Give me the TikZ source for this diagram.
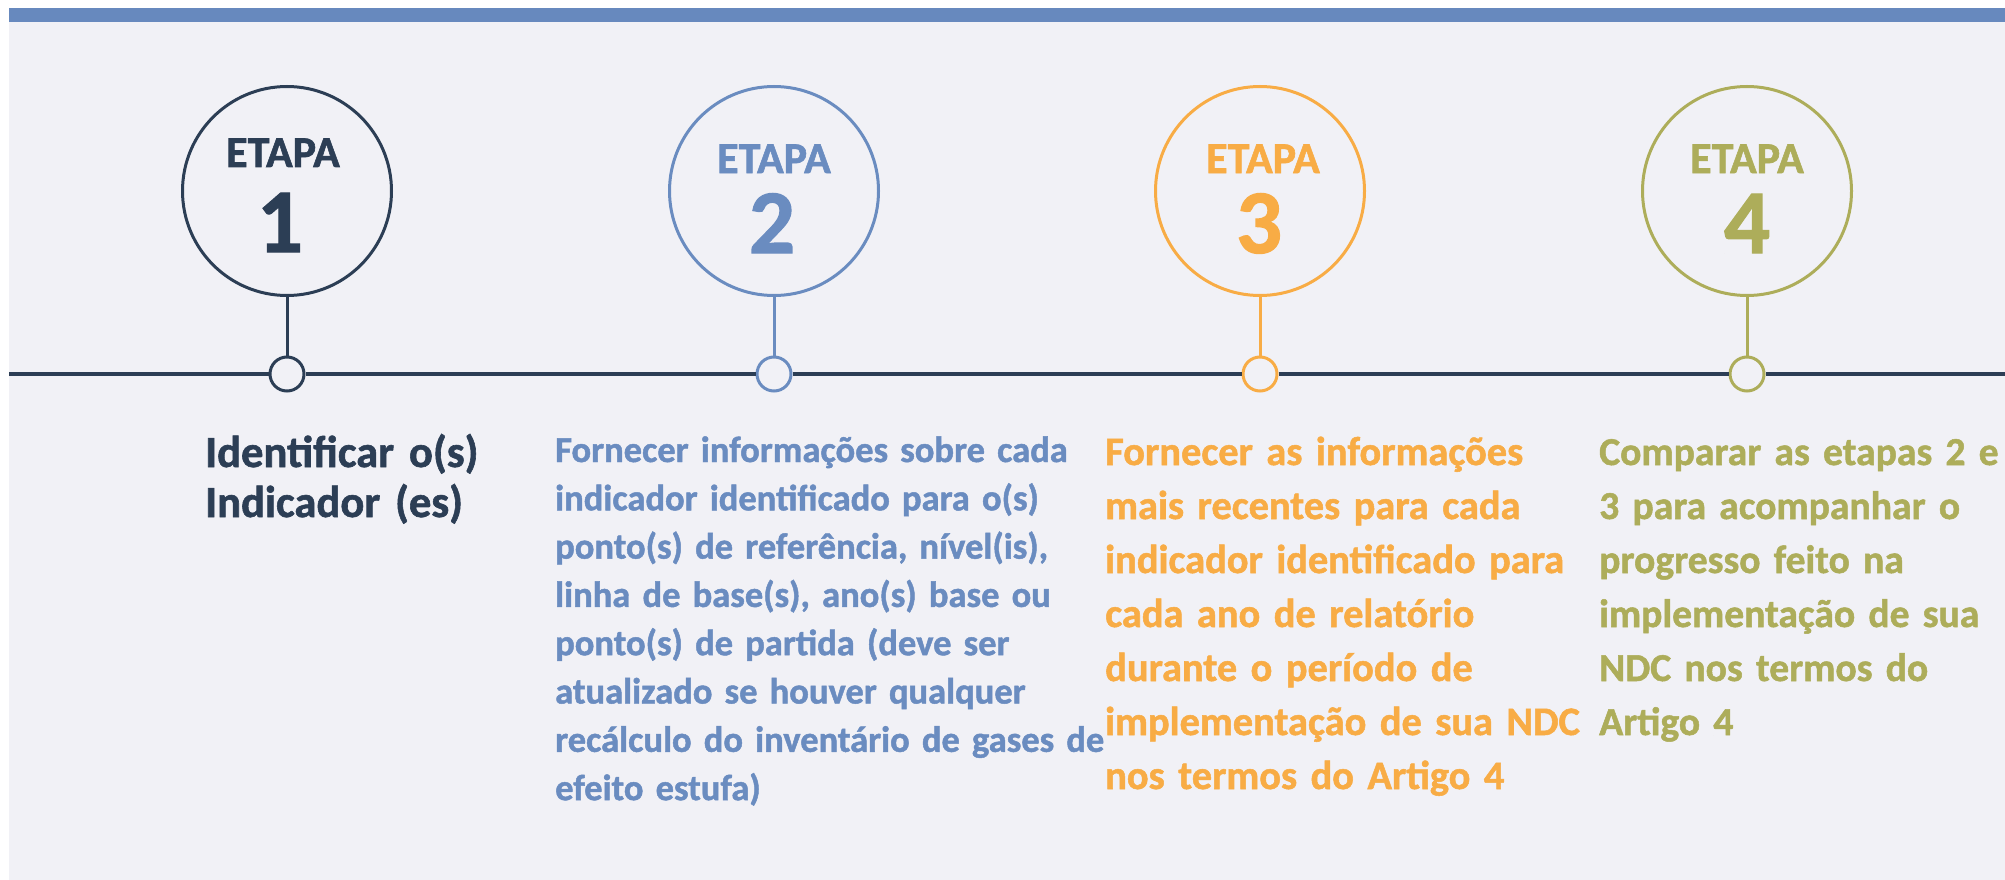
\documentclass[tikz,border=0pt]{standalone}
\usepackage{fontspec}
\setmainfont{Carlito}[BoldFeatures={FakeBold=1.3}]
\definecolor{navy}{HTML}{2C3E55}
\definecolor{stblue}{HTML}{6A8CC0}
\definecolor{storange}{HTML}{F8AC45}
\definecolor{stolive}{HTML}{ADAD5A}
\definecolor{bgcol}{HTML}{F1F1F6}
\definecolor{barcol}{HTML}{6789BE}
\begin{document}
\begin{tikzpicture}[x=1pt,y=-1pt,
  bigcirc/.style={circle,draw=#1,line width=3pt,minimum size=209pt,inner sep=0pt},
  dotc/.style={circle,draw=#1,fill=bgcol,line width=3pt,minimum size=34pt,inner sep=0pt},
  stem/.style={draw=#1,line width=3pt},
  etapa/.style={text=#1,font=\fontsize{44pt}{50pt}\selectfont\bfseries,inner sep=0pt,anchor=base},
  numb/.style={text=#1,font=\fontsize{91pt}{100pt}\selectfont\bfseries,inner sep=0pt,anchor=base},
  desc/.style={text=#1,inner sep=0pt,anchor=base west,text width=620pt,align=left},
  tline/.style={draw=navy,line width=3.8pt}]
\useasboundingbox (0,0) rectangle (2005,880);
\fill[white] (0,0) rectangle (2005,880);
\fill[bgcol] (9,8) rectangle (2005,880);
\fill[barcol] (9,8) rectangle (2005,22);

% big circles
\node[bigcirc=navy] (s1) at (287,191) {};
\node[bigcirc=stblue] (s2) at (774,191) {};
\node[bigcirc=storange] (s3) at (1260,191) {};
\node[bigcirc=stolive] (s4) at (1747,191) {};

% labels inside circles
\node[etapa=navy] (e1) at (283,167) {ETAPA};
\node[numb=navy] (n1) at (280,252) {1};
\node[etapa=stblue] (e2) at (774,173) {ETAPA};
\node[numb=stblue] (n2) at (772,253) {2};
\node[etapa=storange] (e3) at (1263,173) {ETAPA};
\node[numb=storange] (n3) at (1259,253) {3};
\node[etapa=stolive] (e4) at (1747,173) {ETAPA};
\node[numb=stolive] (n4) at (1747,253) {4};

% dots on timeline
\node[dotc=navy] (d1) at (287,374) {};
\node[dotc=stblue] (d2) at (774,374) {};
\node[dotc=storange] (d3) at (1260,374) {};
\node[dotc=stolive] (d4) at (1747,374) {};

\coordinate (tlL) at (9,374);
\coordinate (tlR) at (2005,374);
\draw[tline] (tlL) -- (d1.west);
\draw[tline] (d1.east) -- (d2.west);
\draw[tline] (d2.east) -- (d3.west);
\draw[tline] (d3.east) -- (d4.west);
\draw[tline] (d4.east) -- (tlR);

% stems
\draw[stem=navy] (s1.south) -- (d1.north);
\draw[stem=stblue] (s2.south) -- (d2.north);
\draw[stem=storange] (s3.south) -- (d3.north);
\draw[stem=stolive] (s4.south) -- (d4.north);

% descriptions
\node[desc=navy,font=\fontsize{44.6pt}{50pt}\selectfont\bfseries] (t1) at (205,467)
  {Identificar o(s)\\Indicador (es)};
\node[desc=stblue,font=\fontsize{36.5pt}{48.3pt}\selectfont\bfseries] (t2) at (555,462)
  {Fornecer informações sobre cada\\indicador identificado para o(s)\\ponto(s) de referência, nível(is),\\linha de base(s), ano(s) base ou\\ponto(s) de partida (deve ser\\atualizado se houver qualquer\\recálculo do inventário de gases de\\efeito estufa)};
\node[desc=storange,font=\fontsize{40.4pt}{54pt}\selectfont\bfseries] (t3) at (1105,465)
  {Fornecer as informações\\mais recentes para cada\\indicador identificado para\\cada ano de relatório\\durante o período de\\implementação de sua NDC\\nos termos do Artigo 4};
\node[desc=stolive,font=\fontsize{39.6pt}{54pt}\selectfont\bfseries] (t4) at (1599,465)
  {Comparar as etapas 2 e\\3 para acompanhar o\\progresso feito na\\implementação de sua\\NDC nos termos do\\Artigo 4};
\end{tikzpicture}
\end{document}
